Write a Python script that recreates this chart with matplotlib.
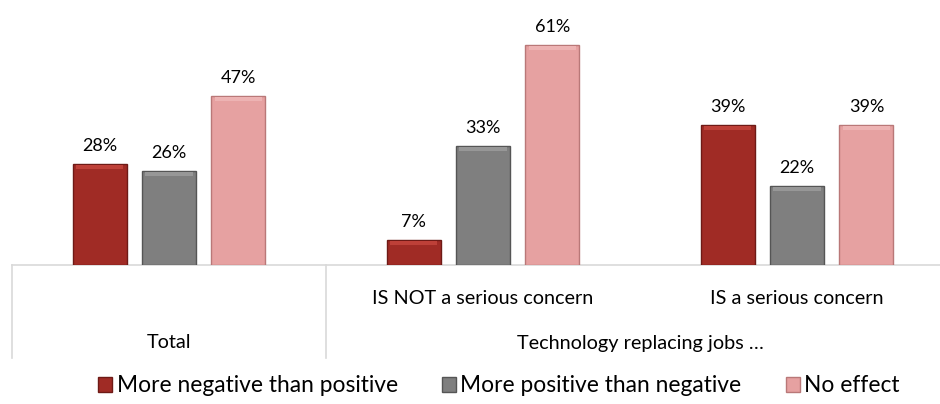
import matplotlib
matplotlib.use("Agg")
import matplotlib.pyplot as plt
import numpy as np
from matplotlib.patches import Patch

# Data
groups = ["Total", "IS NOT a serious concern", "IS a serious concern"]
parent_label = "Technology replacing jobs \u2026"
series = ["More negative than positive", "More positive than negative", "No effect"]
negative = [28, 7, 39]
positive = [26, 33, 22]
no_effect = [47, 61, 39]
values = [negative, positive, no_effect]
colors = ["#A02B25", "#7F7F7F", "#E6A1A1"]
edges = ["#6E1A16", "#555555", "#B97878"]
tops = ["#BE4038", "#979797", "#EDB3B3"]

plt.rcParams["font.family"] = ["Lato", "DejaVu Sans"]

fig = plt.figure(figsize=(9.4, 4.04), dpi=100)
px = 1 / 3.6  # percent per pixel
ax = fig.add_axes([12 / 940, (404 - 265) / 404, 942 / 940, 265 / 404])
ax.set_xlim(-0.5, 2.5)
ax.set_ylim(0, 265 * px)
ax.axis("off")

x = np.arange(len(groups))
width = 0.172
step = 0.221
for i, (vals, c, e, t) in enumerate(zip(values, colors, edges, tops)):
    pos = x + (i - 1) * step
    ax.bar(pos, vals, width, color=c, edgecolor=e, linewidth=1.0, zorder=2)
    # bevel highlight strip at top of each bar
    ax.bar(pos, [4 * px] * len(vals), width * 0.88,
           bottom=[v - 5 * px for v in vals], color=t, linewidth=0, zorder=3)
    for xp, v in zip(pos, vals):
        ax.text(xp, v + 18 * px, f"{v}%", ha="center", va="center",
                fontsize=13, color="#000000")

grid = "#D9D9D9"
ax.plot([-0.5, 2.5], [0, 0], color=grid, lw=1.2, clip_on=False, zorder=1)
for xv in (-0.5, 0.5):
    ax.plot([xv, xv], [0, -93 * px], color=grid, lw=1.2, clip_on=False)

ax.text(1, -33 * px, groups[1], ha="center", va="center", fontsize=14.3)
ax.text(2, -33 * px, groups[2], ha="center", va="center", fontsize=14.3)
ax.text(0, -78 * px, groups[0], ha="center", va="center", fontsize=14.3)
ax.text(1.5, -78 * px, parent_label, ha="center", va="center", fontsize=14.3)

handles = [Patch(facecolor=c, edgecolor=e) for c, e in zip(colors, edges)]
fig.legend(handles, series, loc="center", bbox_to_anchor=(499 / 940, 1 - 386 / 404),
           ncol=3, frameon=False, fontsize=16.4, handlelength=0.6,
           handleheight=0.6, handletextpad=0.2, columnspacing=1.95)

fig.savefig("out.png", dpi=100)
